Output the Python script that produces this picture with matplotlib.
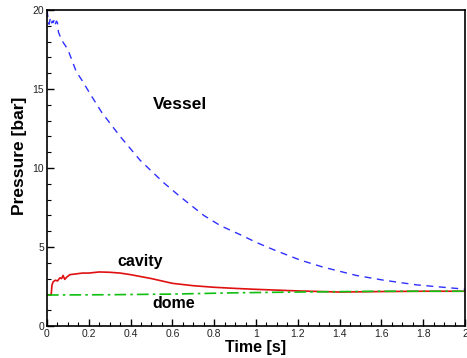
import matplotlib
matplotlib.use("Agg")
import matplotlib.pyplot as plt
from matplotlib.ticker import MultipleLocator

plt.rcParams['font.family'] = ['Liberation Sans', 'DejaVu Sans']

# Vessel pressure (bar) vs time (s)
vessel_t = [0.0, 0.005, 0.01, 0.015, 0.02, 0.025, 0.03, 0.035, 0.04, 0.045, 0.05, 0.055, 0.07,
            0.1, 0.12, 0.14, 0.17, 0.206, 0.263, 0.35, 0.445, 0.5, 0.56, 0.636, 0.75, 0.83,
            0.928, 1.0, 1.08, 1.21, 1.32, 1.48, 1.61, 1.77, 2.0]
vessel_p = [20.0, 19.5, 19.1, 19.4, 19.1, 19.3, 19.2, 19.4, 19.1, 19.3, 19.2, 18.6, 18.1,
            17.5, 16.8, 16.1, 15.5, 14.7, 13.5, 12.0, 10.5, 9.8, 9.05, 8.2, 7.0, 6.35,
            5.76, 5.3, 4.85, 4.18, 3.73, 3.2, 2.9, 2.6, 2.33]

# Cavity pressure
cavity_t = [0.0, 0.02, 0.024, 0.03, 0.04, 0.05, 0.062, 0.07, 0.077, 0.085, 0.095, 0.11, 0.14,
            0.17, 0.2, 0.25, 0.3, 0.35, 0.4, 0.5, 0.6, 0.7, 0.8, 0.9, 1.0, 1.2, 1.4, 1.6,
            1.8, 2.0]
cavity_p = [1.96, 1.96, 2.6, 2.8, 2.9, 2.85, 3.05, 3.0, 3.2, 2.95, 3.1, 3.25, 3.3,
            3.35, 3.35, 3.42, 3.4, 3.35, 3.25, 3.0, 2.7, 2.55, 2.45, 2.38, 2.32, 2.22, 2.15, 2.18,
            2.2, 2.2]

# Dome pressure
dome_t = [0.0, 0.3, 0.6, 0.9, 1.2, 1.6, 2.0]
dome_p = [1.96, 1.98, 2.02, 2.1, 2.15, 2.2, 2.2]

x_ticks = [0, 0.2, 0.4, 0.6, 0.8, 1, 1.2, 1.4, 1.6, 1.8, 2]
x_tick_labels = ['0', '0.2', '0.4', '0.6', '0.8', '1', '1.2', '1.4', '1.6', '1.8', '2']
y_ticks = [0, 5, 10, 15, 20]

fig = plt.figure(figsize=(4.67, 3.58), dpi=100)
ax = fig.add_axes([0.1006, 0.0894, 0.8951, 0.8826])

ax.plot(vessel_t, vessel_p, color='#3030ff', linestyle=(0, (5, 4)), linewidth=1.0)
ax.plot(cavity_t, cavity_p, color='#e01010', linestyle='-', linewidth=1.2)
ax.plot(dome_t, dome_p, color='#10c010', linestyle=(0, (7, 2.5, 1.5, 2.5)), linewidth=1.2)

ax.set_xlim(0, 2)
ax.set_ylim(0, 20)
ax.set_xticks(x_ticks)
ax.set_xticklabels(x_tick_labels)
ax.set_yticks(y_ticks)
ax.xaxis.set_minor_locator(MultipleLocator(0.05))
ax.yaxis.set_minor_locator(MultipleLocator(1))
ax.tick_params(which='major', direction='in', length=5, width=1.0, labelsize=7.5,
               colors='black', labelcolor='#222222', top=False, right=False, pad=2)
ax.tick_params(which='minor', direction='in', length=3, width=0.8, top=False, right=False)
for s in ax.spines.values():
    s.set_linewidth(1.2)

ax.set_xlabel('Time [s]', fontsize=11.5, fontweight='bold', labelpad=1)
ax.set_ylabel('Pressure [bar]', fontsize=12.5, fontweight='bold', labelpad=4)
ax.yaxis.set_label_coords(-0.048, 0.54)

ax.text(0.636, 14.05, 'Vessel', fontsize=12.5, fontweight='bold', ha='center', va='center')
ax.text(0.445, 4.1, 'cavity', fontsize=11.5, fontweight='bold', ha='center', va='center')
ax.text(0.605, 1.4, 'dome', fontsize=11.5, fontweight='bold', ha='center', va='center')

fig.savefig('out.png', dpi=100)
